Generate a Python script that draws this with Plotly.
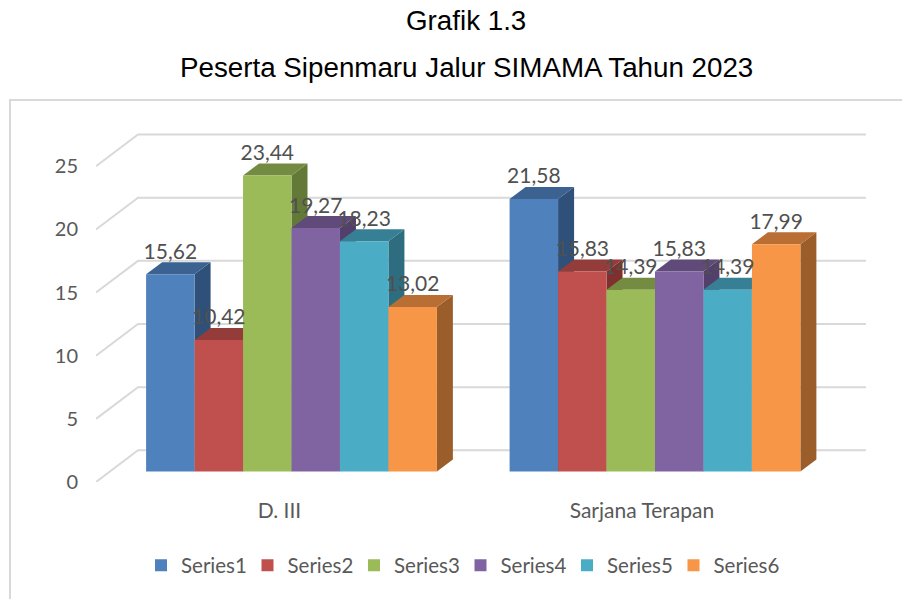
import plotly.graph_objects as go

categories = ["D. III", "Sarjana Terapan"]
series_names = ["Series1", "Series2", "Series3", "Series4", "Series5", "Series6"]
series1 = [15.62, 21.58]
series2 = [10.42, 15.83]
series3 = [23.44, 14.39]
series4 = [19.27, 15.83]
series5 = [18.23, 14.39]
series6 = [13.02, 17.99]
all_series = [series1, series2, series3, series4, series5, series6]
y_ticks = [0, 5, 10, 15, 20, 25]

front_colors = ["#4F81BD", "#C0504D", "#9BBB59", "#8064A2", "#4BACC6", "#F79646"]
top_colors = ["#3B6290", "#933C3A", "#748C42", "#5F4A7A", "#377F95", "#B96F34"]
side_colors = ["#2F5078", "#7F2F2D", "#637937", "#533F6B", "#2E6C80", "#9B5E2B"]

OFF = 8                                       # the page's own margin
W, H = 910 - OFF, 599 - OFF
PL, PR, PT, PB = 96 - OFF, 866 - OFF, 100 - OFF, 481.7 - OFF   # plot box in figure pixels
PX_X, PX_Y = 363.5, 12.62                     # pixels per axis unit
X0 = -(291.5 - OFF - PL) / PX_X               # axis range start
X1 = X0 + (PR - PL) / PX_X
Y1 = (PB - PT) / PX_Y
BAR_W = 48.46 / PX_X
BASE = 10.5 / PX_Y                            # floor offset of the bars
DX, DY = 16 / PX_X, 12 / PX_Y                 # bar depth
WALL_DX, WALL_DY = 42 / PX_X, 31.7 / PX_Y     # wall depth
GREY = "#595959"
FONT = "Lato"


def px(x):
    return (x - OFF - PL) / (PR - PL)


def py(y):
    return (PB - (y - OFF)) / (PB - PT)


fig = go.Figure()

# back wall and side wall lines
wx, wy = [], []
for t in y_ticks:
    wx += [X0, X0 + WALL_DX, X1, None]
    wy += [t, t + WALL_DY, t + WALL_DY, None]
fig.add_trace(go.Scatter(x=wx, y=wy, mode="lines", line=dict(color="#D9D9D9", width=2),
                         showlegend=False, hoverinfo="skip", zorder=-1, cliponaxis=False))

lx, ly, lt = [], [], []
for i, (name, vals) in enumerate(zip(series_names, all_series)):
    tx, ty, sx, sy = [], [], [], []
    for g, v in enumerate(vals):
        xl = g + (i - 3) * BAR_W
        xr = xl + BAR_W
        top = v + BASE
        tx += [xl, xl + DX, xr + DX, xr, xl, None]
        ty += [top, top + DY, top + DY, top, top, None]
        sx += [xr, xr + DX, xr + DX, xr, xr, None]
        sy += [BASE, BASE + DY, top + DY, top, BASE, None]
        lx.append(xl + BAR_W / 2)
        ly.append(top + 1.65)
        lt.append(f"{v:.2f}".replace(".", ","))
    fig.add_trace(go.Scatter(x=sx, y=sy, mode="lines", fill="toself", fillcolor=side_colors[i],
                             line=dict(width=0, color=side_colors[i]), showlegend=False,
                             hoverinfo="skip", zorder=2 * i, cliponaxis=False))
    fig.add_trace(go.Scatter(x=tx, y=ty, mode="lines", fill="toself", fillcolor=top_colors[i],
                             line=dict(width=0, color=top_colors[i]), showlegend=False,
                             hoverinfo="skip", zorder=2 * i, cliponaxis=False))
    fig.add_trace(go.Bar(x=[0, 1], y=vals, base=BASE, name=name, marker=dict(color=front_colors[i], line=dict(width=0)),
                         zorder=2 * i + 1, offsetgroup=str(i)))

fig.add_trace(go.Scatter(x=lx, y=ly, text=lt, mode="text", textposition="middle center",
                         textfont=dict(family=FONT, size=21, color="#505050"), showlegend=False,
                         hoverinfo="skip", zorder=100, cliponaxis=False))

fig.update_layout(
    width=W, height=H, autosize=False,
    margin=dict(l=PL, r=W - PR, t=PT, b=H - PB, autoexpand=False),
    paper_bgcolor="white", plot_bgcolor="white",
    barmode="group", bargap=0.2, bargroupgap=0,
    font=dict(family=FONT, color=GREY, size=18),
    xaxis=dict(range=[X0, X1], tickmode="array", tickvals=[-0.033, 0.964], ticktext=categories,
               showgrid=False, zeroline=False, showline=False, ticks="outside", ticklen=10,
               tickcolor="rgba(0,0,0,0)", tickfont=dict(family=FONT, size=21, color=GREY)),
    yaxis=dict(range=[0, Y1], tickmode="array", tickvals=y_ticks,
               showgrid=False, zeroline=False, showline=False, ticks="outside", ticklen=13,
               tickcolor="rgba(0,0,0,0)", tickfont=dict(family=FONT, size=20, color=GREY)),
    legend=dict(orientation="h", x=(133 - PL) / (PR - PL), xanchor="left",
                y=-(545 - OFF - PB) / (PB - PT), yanchor="top", traceorder="normal",
                entrywidth=61.5, entrywidthmode="pixels", font=dict(family=FONT, size=20.5, color=GREY),
                bgcolor="rgba(0,0,0,0)"),
    shapes=[dict(type="rect", xref="paper", yref="paper", layer="below",
                 x0=px(10), x1=px(925), y0=py(615), y1=py(100),
                 line=dict(color="#D9D9D9", width=2), fillcolor="rgba(0,0,0,0)")],
    annotations=[
        dict(text="Grafik 1.3", xref="paper", yref="paper", showarrow=False,
             x=px(466), y=py(21), xanchor="center", yanchor="middle",
             font=dict(family="Liberation Sans", size=27.75, color="black")),
        dict(text="Peserta Sipenmaru Jalur SIMAMA Tahun 2023", xref="paper", yref="paper", showarrow=False,
             x=px(466), y=py(67.5), xanchor="center", yanchor="middle",
             font=dict(family="Liberation Sans", size=27.75, color="black")),
    ],
)

fig.write_html("out.html")
